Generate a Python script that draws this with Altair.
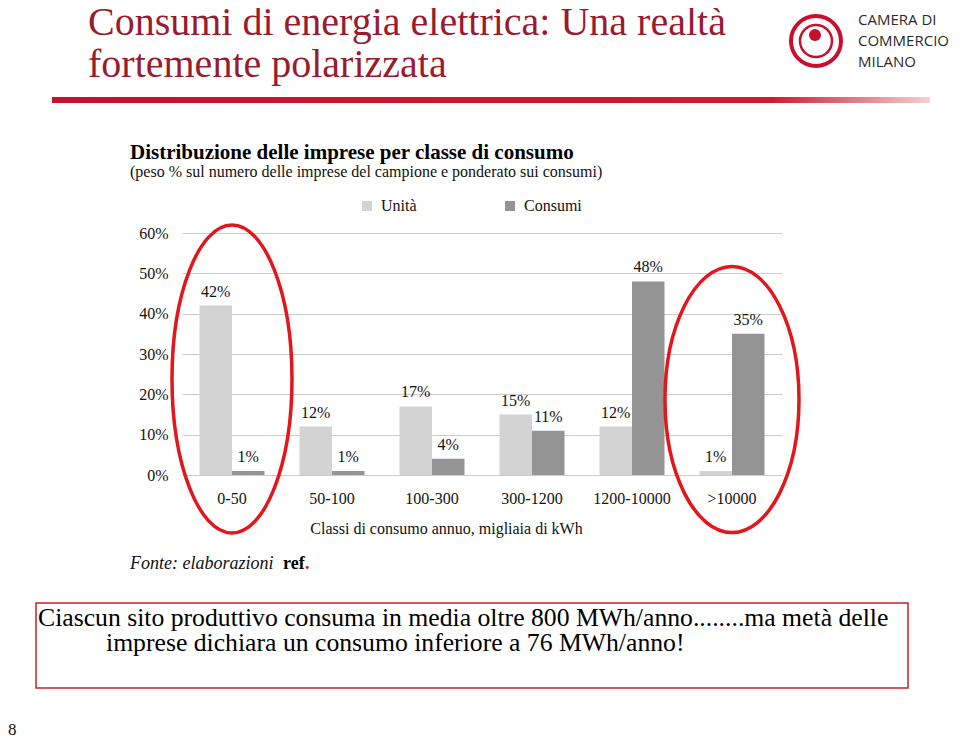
import altair as alt
import pandas as pd

# ---------------- data ----------------
categories = ["0-50", "50-100", "100-300", "300-1200", "1200-10000", ">10000"]
series = ["Unità", "Consumi"]
unita = [42, 12, 17, 15, 12, 1]
consumi = [1, 1, 4, 11, 48, 35]
y_ticks = [0, 10, 20, 30, 40, 50, 60]

SERIF = "Liberation Serif"
SANS = "Open Sans"
X0, Y0 = 182, 233          # plot-area origin on the page
W, H = 600, 242

rows = []
for c, u, k in zip(categories, unita, consumi):
    rows.append({"classe": c, "serie": "Unità", "valore": u})
    rows.append({"classe": c, "serie": "Consumi", "valore": k})
df = pd.DataFrame(rows)

x_enc = alt.X(
    "classe:N", sort=categories,
    scale=alt.Scale(paddingInner=0.35, paddingOuter=0.175),
    axis=alt.Axis(
        title="Classi di consumo annuo, migliaia di kWh", labelAngle=0,
        labelFont=SERIF, labelFontSize=16, labelColor="#111", labelPadding=15,
        ticks=False, tickSize=0, domain=False,
        titleFont=SERIF, titleFontSize=16, titleFontWeight="normal", titleColor="#111",
        titleX=264, titleY=53, titleBaseline="middle", titleAlign="center",
    ),
)
y_enc = alt.Y(
    "valore:Q", scale=alt.Scale(domain=[0, 60]),
    axis=alt.Axis(
        values=y_ticks, labelExpr="datum.value + '%'", title=None,
        grid=True, gridColor="#CDCDCD", gridWidth=1, domain=False, ticks=False, tickSize=0,
        labelPadding=14, labelFont=SERIF, labelFontSize=16, labelColor="#111",
    ),
)
xoff = alt.XOffset("serie:N", sort=series, scale=alt.Scale(paddingInner=0, paddingOuter=0))

base = alt.Chart(df)
bars = base.mark_bar().encode(
    x=x_enc, y=y_enc, xOffset=xoff,
    color=alt.Color(
        "serie:N", scale=alt.Scale(domain=series, range=["#D3D3D3", "#949494"]),
        legend=alt.Legend(
            title=None, orient="none", legendX=177, legendY=-35, direction="horizontal",
            symbolType="square", symbolSize=100, symbolStrokeWidth=0,
            labelFont=SERIF, labelFontSize=16, labelColor="#111", labelOffset=6,
            columnPadding=85, padding=0,
        ),
    ),
)
labels = base.transform_calculate(lbl="datum.valore + '%'").mark_text(
    baseline="bottom", dy=-6, font=SERIF, fontSize=16, color="#111"
).encode(x=x_enc, y=y_enc, xOffset=xoff, text="lbl:N")


def ellipse_path(r):
    k = 0.5523
    f = lambda v: f"{v:.4f}"
    a = r
    return (f"M {f(a)} 0 C {f(a)} {f(k)} {f(k*a)} 1 0 1 "
            f"C {f(-k*a)} 1 {f(-a)} {f(k)} {f(-a)} 0 "
            f"C {f(-a)} {f(-k)} {f(-k*a)} -1 0 -1 "
            f"C {f(k*a)} -1 {f(a)} {f(-k)} {f(a)} 0 Z")


def ellipse(cat, centre, rx, ry, dx):
    d = pd.DataFrame({"classe": [cat], "valore": [centre]})
    return alt.Chart(d).mark_point(
        shape=ellipse_path(rx / ry), size=(2 * ry) ** 2, filled=False,
        stroke="#E3161B", strokeWidth=3.5, opacity=1, dx=dx,
    ).encode(x=alt.X("classe:N", sort=categories), y=alt.Y("valore:Q"))


ell1 = ellipse("0-50", 23.8, 60, 154, -5)
ell2 = ellipse(">10000", 18.7, 67, 133, 10)


def txt(t, x, y, size, font=SERIF, color="#111", **kw):
    return alt.Chart(pd.DataFrame({"t": [t]})).mark_text(
        align="left", baseline="alphabetic", font=font, fontSize=size, color=color, **kw
    ).encode(x=alt.value(x - X0), y=alt.value(y - Y0), text="t:N")


def box(x1, x2, y1, y2, **kw):
    return alt.Chart(pd.DataFrame({"a": [0]})).mark_rect(**kw).encode(
        x=alt.value(x1 - X0), x2=alt.value(x2 - X0), y=alt.value(y1 - Y0), y2=alt.value(y2 - Y0)
    )


def ring(cx, cy, r, **kw):
    return alt.Chart(pd.DataFrame({"a": [0]})).mark_point(
        shape="circle", size=(2 * r) ** 2, opacity=1, **kw
    ).encode(x=alt.value(cx - X0), y=alt.value(cy - Y0))


TITLE_RED = "#9A1B2E"
LOGO_RED = "#C8102E"
annotations = [
    txt("Consumi di energia elettrica: Una realtà", 88, 35, 40, color=TITLE_RED),
    txt("fortemente polarizzata", 88, 77, 40, color=TITLE_RED),
    box(52, 930, 97, 103, fill=alt.Gradient(
        gradient="linear", x1=0, x2=1, y1=0, y2=0,
        stops=[alt.GradientStop(color="#C8102E", offset=0),
               alt.GradientStop(color="#D01A30", offset=0.82),
               alt.GradientStop(color="#F5D0D4", offset=1)])),
    ring(816, 41, 25, filled=False, stroke=LOGO_RED, strokeWidth=4),
    ring(816, 41, 16, filled=False, stroke=LOGO_RED, strokeWidth=2.5),
    ring(815, 35, 6, filled=True, fill=LOGO_RED, strokeWidth=0),
    txt("CAMERA DI", 858, 25, 15, font=SANS, color="#2b2b2b"),
    txt("COMMERCIO", 858, 46, 15, font=SANS, color="#2b2b2b"),
    txt("MILANO", 858, 67, 15, font=SANS, color="#2b2b2b"),
    txt("Distribuzione delle imprese per classe di consumo", 130, 159, 21, fontWeight="bold", color="#000"),
    txt("(peso % sul numero delle imprese del campione e ponderato sui consumi)", 130, 177, 16),
    txt("Fonte: elaborazioni", 130, 569, 18, fontStyle="italic"),
    txt("ref", 283, 569, 18, fontWeight="bold", color="#000"),
    txt(".", 305, 569, 18, fontWeight="bold", color="#D0101E"),
    box(36, 908, 603, 688, fillOpacity=0, stroke="#C8202A", strokeWidth=1.5),
    txt("Ciascun sito produttivo consuma in media oltre 800 MWh/anno........ma metà delle", 38, 626, 25.7, color="#000"),
    txt("imprese dichiara un consumo inferiore a 76 MWh/anno!", 106, 651, 25.7, color="#000"),
    txt("8", 8, 735, 17),
]

chart = alt.layer(bars, labels, ell1, ell2, *annotations).properties(
    width=W, height=H,
    autosize=alt.AutoSizeParams(type="none"),
    padding={"left": X0 - 8, "top": Y0 - 8, "right": 170, "bottom": 264},
    background="white",
).configure_view(stroke=None)

chart.save("out.html", embed_options={"renderer": "svg", "actions": False})
